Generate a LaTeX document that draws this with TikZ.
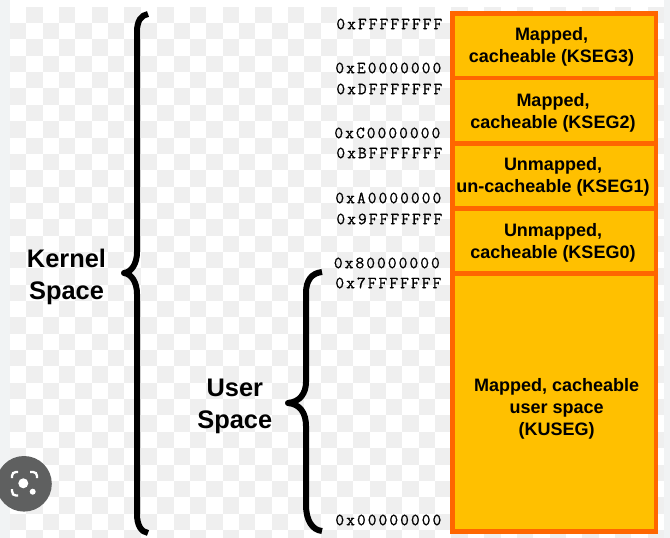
\documentclass[tikz,border=0pt]{standalone}
\usepackage{fontspec}
\setmainfont{Liberation Sans}
\newfontfamily\addrfont[LetterSpace=12,FakeBold=0.8]{Latin Modern Mono}
\usepackage{xcolor}
\definecolor{amberfill}{RGB}{255,192,0}
\definecolor{segorange}{RGB}{255,102,0}
\definecolor{checkgrey}{RGB}{239,239,239}
\definecolor{stripgrey}{RGB}{241,243,244}
\definecolor{lensgrey}{RGB}{95,96,96}
\tikzset{
  segbox/.style={draw=segorange, fill=amberfill, line width=4.5pt, rectangle, inner sep=0pt, minimum width=203.3pt},
  segtext/.style={align=center, font=\fontsize{18}{22}\selectfont\bfseries, inner sep=0pt},
  addrtext/.style={anchor=east, inner sep=0pt, font=\addrfont\fontsize{17}{17}\selectfont},
  spacetext/.style={align=center, font=\fontsize{25.4}{32}\selectfont\bfseries, inner sep=0pt},
  bracepath/.style={line width=6pt, line join=round}
}
\begin{document}
\begin{tikzpicture}[x=1pt, y=-1pt]
  \useasboundingbox (0,0) rectangle (670,538);
  \fill[white] (0,0) rectangle (670,538);
  % checker backdrop
  \foreach \i in {0,...,39} {
    \foreach \j in {0,...,32} {
      \pgfmathparse{int(mod(\i+\j,2))}
      \ifnum\pgfmathresult=1
        \fill[checkgrey] ({10+16.35*\i}, {6.7+16.35*\j}) rectangle ++(16.35,16.35);
      \fi
    }
  }
  \fill[white] (0,538) rectangle (670,546);
  \fill[stripgrey] (0,0) rectangle (10,538);
  \fill[stripgrey] (664,0) rectangle (670,538);
  % memory segments
  \foreach \name/\ytop/\ybot in {kseg3/13.7/78, kseg2/78/143.3, kseg1/143.3/208.3, kseg0/208.3/273.3, kuseg/273.3/531.5} {
    \pgfmathsetmacro{\ymid}{(\ytop+\ybot)/2}
    \pgfmathsetmacro{\yh}{\ybot-\ytop}
    \node[segbox, minimum height=\yh pt] (\name) at (554.35,\ymid) {};
  }
  \foreach \name/\x/\y/\txt in {kseg3/551.5/47.2/{Mapped,\\cacheable (KSEG3)}, kseg2/553/112.8/{Mapped,\\cacheable (KSEG2)}, kseg1/553/177.1/{Unmapped,\\un-cacheable (KSEG1)}, kseg0/553/242.8/{Unmapped,\\cacheable (KSEG0)}, kuseg/556.7/408.8/{Mapped, cacheable\\user space\\(KUSEG)}} {
    \node[segtext] (\name text) at (\x,\y) {\txt};
  }
  % addresses
  \foreach \name/\x/\y/\txt in {aF/442.5/24/0xFFFFFFFF, aE/441.5/68/0xE0000000, aD/442.5/89/0xDFFFFFFF, aC/440.5/133/0xC0000000, aB/442.5/153/0xBFFFFFFF, aA/441.5/198/0xA0000000, a9/442.5/219/0x9FFFFFFF, a8/440/263/0x80000000, a7/441.5/283/0x7FFFFFFF, a0/441.5/520/0x00000000} {
    \node[addrtext] (\name) at (\x,\y) {\txt};
  }
  % braces
  \draw[bracepath] (148,14) .. controls (141,15) and (137,21) .. (137,32) -- (137,252)
    .. controls (137,263) and (132,272) .. (124,273) .. controls (132,274) and (137,283) .. (137,294)
    -- (137,514) .. controls (137,525) and (141,532) .. (148,533);
  \draw[bracepath] (322,272) .. controls (312,273) and (306,280) .. (306,293) -- (306,382)
    .. controls (306,393) and (300,402) .. (288,403) .. controls (300,404) and (306,413) .. (306,426)
    -- (306,505) .. controls (306,520) and (312,530) .. (322,531);
  \node[spacetext] (kernel) at (66.5,277) {Kernel\\Space};
  \node[spacetext] (user) at (234.8,406.5) {User\\Space};
  % lens badge
  \fill[lensgrey] (24,483.8) circle (27.8);
  \fill[white] (23.3,483.3) circle (5);
  \fill[white] (32.7,491.7) circle (3);
  \begin{scope}[white, line width=2.3pt]
    \draw (12,478) -- (12,476) .. controls (12,473.5) and (13.5,472) .. (16,472) -- (18,472);
    \draw (30,472) -- (33,472) .. controls (35.5,472) and (37,473.5) .. (37,476) -- (37,478);
    \draw (12,489) -- (12,491) .. controls (12,494) and (13.5,495.5) .. (16,495.5) -- (18,495.5);
  \end{scope}
\end{tikzpicture}
\end{document}
